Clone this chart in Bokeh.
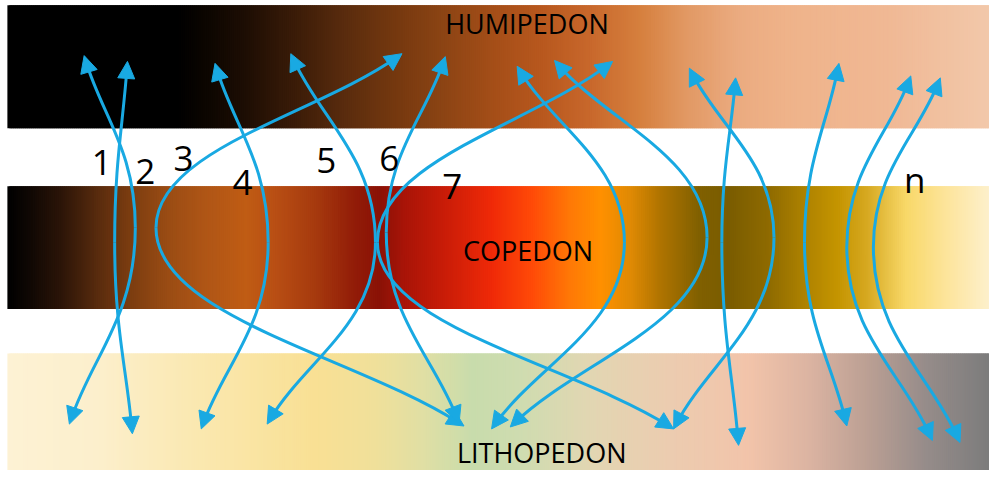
import numpy as np
from bokeh.plotting import figure
from bokeh.models import Range1d, Arrow, NormalHead
from bokeh.embed import file_html
from bokeh.resources import INLINE
from bokeh.core.properties import value

# ---------------- content ----------------
band_labels = ["HUMIPEDON", "COPEDON", "LITHOPEDON"]
band_label_x = [535, 536, 550]
band_label_y = [24, 258, 467]
band_top = [5, 192, 365]
band_bottom = [132, 319, 490]

humi_x = [7, 180, 200, 250, 300, 350, 400, 450, 500, 550, 600, 650, 700, 750, 800, 900, 1005]
humi_c = ["#000000", "#000000", "#080400", "#1e0e04", "#3b1c08", "#5a2c0e", "#74380f", "#8c4414",
          "#a44e18", "#b8581e", "#c8682c", "#d6803e", "#e29a66", "#ebab80", "#efb38a", "#f0b894", "#f2c8aa"]
cope_x = [7, 30, 60, 100, 130, 170, 210, 250, 280, 320, 360, 385, 410, 450, 500, 540, 580, 610,
          640, 670, 710, 740, 780, 820, 850, 880, 920, 960, 1005]
cope_c = ["#000000", "#100804", "#2a1408", "#5a2c0e", "#7a3c10", "#9a4c14", "#b05616", "#c05c14",
          "#b84e14", "#a63a0e", "#921c08", "#8a1206", "#a81408", "#c81c08", "#f02a08", "#ff4a08",
          "#ff7a06", "#ff9000", "#e08a04", "#b07400", "#806000", "#7a5c00", "#8e6a00", "#b08400",
          "#c49400", "#d6a820", "#f8d868", "#fde49a", "#fdf0cc"]
litho_x = [7, 100, 200, 320, 380, 430, 480, 530, 600, 680, 760, 820, 880, 940, 1005]
litho_c = ["#fdf2d4", "#fcefcc", "#fae8b0", "#f9e094", "#f0e09a", "#e0dfa4", "#c8dcac", "#cfdcb0",
           "#e2d6b2", "#ecccb0", "#f2c4aa", "#dcb4a2", "#bca094", "#968c8a", "#7c7c7c"]

number_labels = ["1", "2", "3", "4", "5", "6", "7", "n"]
number_x = [103, 147, 186, 246, 331, 395, 459, 929]
number_y = [167, 177, 163, 188, 165, 163, 192, 185]

# arrows: top tip, middle (bulge) point, bottom tip
arrow_top_x = [85, 129, 408, 218, 295, 452, 622, 525, 563, 747, 700, 852, 925, 955]
arrow_top_y = [57, 63, 55, 65, 55, 58, 63, 68, 62, 80, 70, 65, 78, 80]
arrow_mid_x = [137, 116, 158, 272, 381, 392, 383, 634, 718, 733, 786, 817, 860, 887]
arrow_mid_y = [235, 250, 235, 250, 250, 240, 250, 250, 245, 250, 245, 250, 255, 255]
arrow_bot_x = [70, 134, 471, 204, 271, 466, 684, 499, 518, 750, 684, 860, 947, 975]
arrow_bot_y = [438, 448, 440, 443, 438, 437, 443, 443, 441, 460, 443, 440, 455, 457]

BLUE = "#19a9e2"
FONT = "Open Sans"

# ---------------- figure ----------------
p = figure(width=989, height=470, x_range=Range1d(0, 1005), y_range=Range1d(486, 0),
           output_backend="svg", toolbar_location=None, min_border=0,
           x_axis_location=None, y_axis_location=None)
p.xgrid.visible = False
p.ygrid.visible = False
p.outline_line_color = None
p.background_fill_color = "white"
p.border_fill_color = "white"


def hex2rgb(h):
    h = h.lstrip("#")
    return [int(h[i:i + 2], 16) for i in (0, 2, 4)]


def draw_band(xs, cols, top, bottom):
    rgb = np.array([hex2rgb(c) for c in cols], dtype=float)
    step = 2
    lefts = np.arange(xs[0], xs[-1], step)
    mids = lefts + step / 2
    r = np.interp(mids, xs, rgb[:, 0])
    g = np.interp(mids, xs, rgb[:, 1])
    b = np.interp(mids, xs, rgb[:, 2])
    colors = ["#%02x%02x%02x" % (int(round(a)), int(round(bb)), int(round(c))) for a, bb, c in zip(r, g, b)]
    rights = np.minimum(lefts + step + 2.5, xs[-1])
    p.quad(left=lefts, right=rights, top=[top] * len(lefts), bottom=[bottom] * len(lefts),
           fill_color=colors, line_color=None)


draw_band(humi_x, humi_c, band_top[0], band_bottom[0])
draw_band(cope_x, cope_c, band_top[1], band_bottom[1])
draw_band(litho_x, litho_c, band_top[2], band_bottom[2])

# ---------------- arrows ----------------
A = 0.35  # handle from tip toward middle
B = 0.45  # vertical handle at middle
HEAD = 17

bz = dict(x0=[], y0=[], x1=[], y1=[], cx0=[], cy0=[], cx1=[], cy1=[])
heads = []
for i in range(len(arrow_top_x)):
    M = np.array([arrow_mid_x[i], arrow_mid_y[i]], dtype=float)
    for P in (np.array([arrow_top_x[i], arrow_top_y[i]], dtype=float),
              np.array([arrow_bot_x[i], arrow_bot_y[i]], dtype=float)):
        c1 = P + A * (M - P)
        c2 = np.array([M[0], M[1] + B * (P[1] - M[1])])
        d = P - c1
        d = d / np.hypot(*d)
        P2 = P - 5 * d
        bz["x0"].append(P2[0]); bz["y0"].append(P2[1])
        bz["cx0"].append(c1[0]); bz["cy0"].append(c1[1])
        bz["cx1"].append(c2[0]); bz["cy1"].append(c2[1])
        bz["x1"].append(M[0]); bz["y1"].append(M[1])
        heads.append((P, d))

p.bezier(line_color=BLUE, line_width=3, **bz)

for P, d in heads:
    s = P - 3 * d
    p.add_layout(Arrow(end=NormalHead(size=HEAD, fill_color=BLUE, line_color=BLUE, line_width=1),
                       x_start=s[0], y_start=s[1], x_end=P[0], y_end=P[1],
                       line_color=BLUE, line_width=1))

# ---------------- texts ----------------
p.text(x=band_label_x, y=band_label_y, text=band_labels, text_font=value(FONT),
       text_font_size="27px", text_align="center", text_baseline="middle", text_color="black")
p.text(x=number_x, y=number_y, text=number_labels, text_font=value(FONT),
       text_font_size="35px", text_align="center", text_baseline="alphabetic", text_color="black")

open("out.html", "w").write(file_html(p, INLINE))
